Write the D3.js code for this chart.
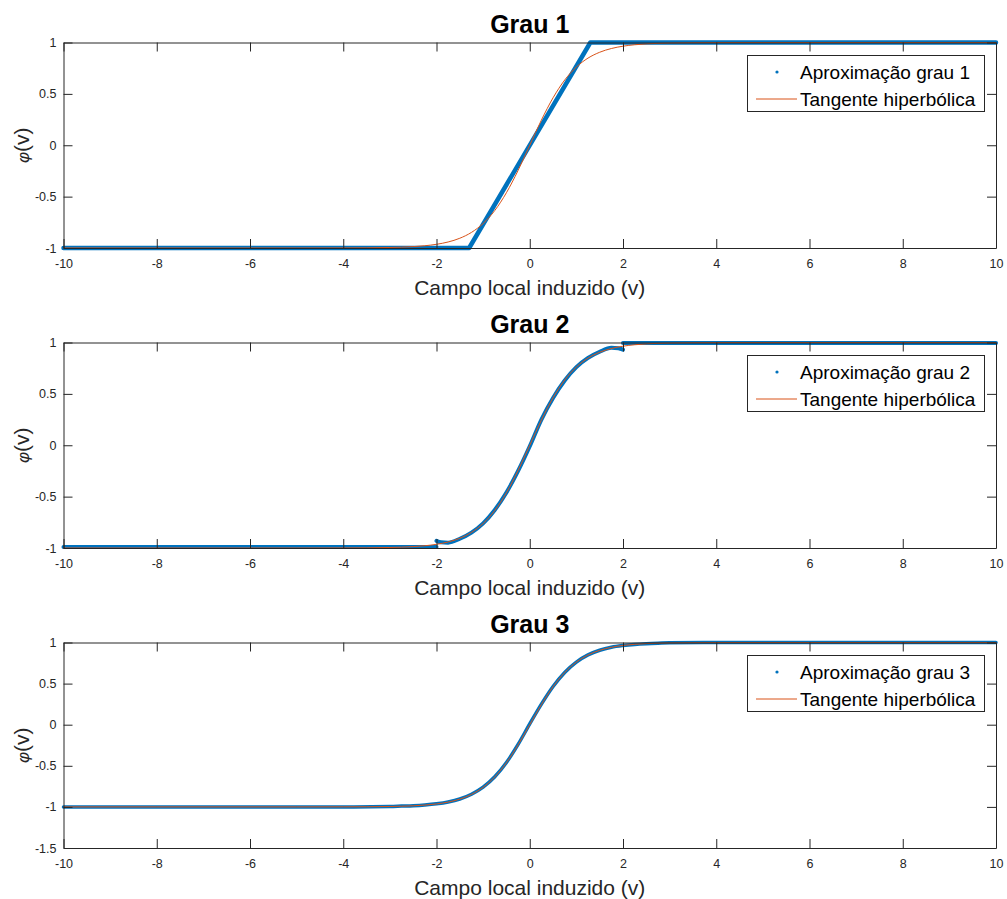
<!DOCTYPE html>
<html><head><meta charset="utf-8">
<script src="https://cdn.jsdelivr.net/npm/d3@7"></script>
<style>
html,body{margin:0;padding:0;background:#fff;}
svg{display:block;font-family:"Liberation Sans",Arial,sans-serif;}
</style></head>
<body>
<svg id="chart" width="1007" height="899"></svg>
<script>
// ---------- data ----------
const titles = ["Grau 1", "Grau 2", "Grau 3"];
const legendLabels = ["Aproximação grau 1", "Aproximação grau 2", "Aproximação grau 3"];
const tanhLabel = "Tangente hiperbólica";
const xLabel = "Campo local induzido (v)";
const xTicks = [-10, -8, -6, -4, -2, 0, 2, 4, 6, 8, 10];
const yTicks12 = [-1, -0.5, 0, 0.5, 1];
const yTicks3 = [-1.5, -1, -0.5, 0, 0.5, 1];
const yDomains = [[-1, 1], [-1, 1], [-1.5, 1]];

// hyperbolic tangent reference curve
const tanhX = [-10,-8,-6,-5,-4,-3.5,-3,-2.75,-2.5,-2.25,-2,-1.75,-1.5,-1.25,-1,-0.75,-0.5,-0.25,0,0.25,0.5,0.75,1,1.25,1.5,1.75,2,2.25,2.5,2.75,3,3.5,4,5,6,8,10];
const tanhY = [-1,-1,-1,-0.9999,-0.9993,-0.9982,-0.9951,-0.9918,-0.9866,-0.978,-0.964,-0.9414,-0.9051,-0.8483,-0.7616,-0.6351,-0.4621,-0.2449,0,0.2449,0.4621,0.6351,0.7616,0.8483,0.9051,0.9414,0.964,0.978,0.9866,0.9918,0.9951,0.9982,0.9993,0.9999,1,1,1];

// grade 1 approximation (piecewise linear)
const g1X = [-10, -1.3, 1.3, 10];
const g1Y = [-1, -1, 1, 1];

// grade 2 approximation (three pieces, jumps at +-2)
const g2LeftX = [-10, -2];
const g2LeftY = [-0.99, -0.99];
const g2MidX = [-2, -1.9, -1.75, -1.5, -1.25, -1, -0.75, -0.5, -0.25, 0, 0.25, 0.5, 0.75, 1, 1.25, 1.5, 1.75, 1.9, 2];
const g2MidY = [-0.93, -0.945, -0.948, -0.91, -0.85, -0.76, -0.63, -0.46, -0.25, -0.01, 0.25, 0.46, 0.63, 0.76, 0.85, 0.91, 0.948, 0.945, 0.93];
const g2RightX = [2, 10];
const g2RightY = [0.995, 0.995];

// grade 3 approximation
const g3X = [-10,-6,-4,-3,-2.75,-2.5,-2.25,-2,-1.75,-1.5,-1.25,-1,-0.75,-0.5,-0.25,0,0.25,0.5,0.75,1,1.25,1.5,1.75,2,2.25,2.5,2.75,3,4,6,10];
const g3Y = [-1,-1,-1,-0.995,-0.99,-0.985,-0.976,-0.962,-0.94,-0.904,-0.846,-0.76,-0.634,-0.46,-0.24,0.01,0.25,0.465,0.636,0.762,0.849,0.906,0.942,0.963,0.977,0.986,0.992,0.996,1,1,1];

// ---------- layout ----------
const svg = d3.select("#chart");
const left = 63.5, right = 996;
const tops = [42.5, 342.5, 642.5];
const plotH = 205.5;
const blue = "#0072BD", orange = "#D95319", axisCol = "#262626";
const fmt = v => String(v);

const approxSets = [
  [{x: g1X, y: g1Y}],
  [{x: g2LeftX, y: g2LeftY}, {x: g2MidX, y: g2MidY}, {x: g2RightX, y: g2RightY}],
  [{x: g3X, y: g3Y}]
];
const blueWidths = [4.5, 4, 3.5];
const yTickSets = [yTicks12, yTicks12, yTicks3];

const x = d3.scaleLinear().domain([-10, 10]).range([left, right]);

titles.forEach((t, i) => {
  const top = tops[i], bottom = top + plotH;
  const y = d3.scaleLinear().domain(yDomains[i]).range([bottom, top]);
  const g = svg.append("g");

  // data
  const line = d3.line().x(d => x(d[0])).y(d => y(d[1])).curve(d3.curveMonotoneX);
  approxSets[i].forEach(s => {
    g.append("path")
      .datum(s.x.map((v, k) => [v, s.y[k]]))
      .attr("d", d3.line().x(d => x(d[0])).y(d => y(d[1])).curve(i === 0 ? d3.curveLinear : d3.curveMonotoneX))
      .attr("fill", "none").attr("stroke", blue).attr("stroke-width", blueWidths[i])
      .attr("stroke-linejoin", "round").attr("stroke-linecap", "round");
  });
  g.append("path")
    .datum(tanhX.map((v, k) => [v, tanhY[k]]))
    .attr("d", line)
    .attr("fill", "none").attr("stroke", orange).attr("stroke-width", 1);

  // axes
  const xb = g.append("g").attr("transform", `translate(0,${bottom})`)
    .call(d3.axisBottom(x).tickValues(xTicks).tickFormat(fmt).tickSizeInner(-9).tickSizeOuter(0).tickPadding(11));
  const xt = g.append("g").attr("transform", `translate(0,${top})`)
    .call(d3.axisTop(x).tickValues(xTicks).tickFormat("").tickSizeInner(-9).tickSizeOuter(0));
  const yl = g.append("g").attr("transform", `translate(${left},0)`)
    .call(d3.axisLeft(y).tickValues(yTickSets[i]).tickFormat(fmt).tickSizeInner(-9).tickSizeOuter(0).tickPadding(7));
  const yr = g.append("g").attr("transform", `translate(${right},0)`)
    .call(d3.axisRight(y).tickValues(yTickSets[i]).tickFormat("").tickSizeInner(-9).tickSizeOuter(0));
  [xb, xt, yl, yr].forEach(a => {
    a.selectAll("path.domain").attr("stroke", axisCol).attr("stroke-width", 1);
    a.selectAll(".tick line").attr("stroke", axisCol).attr("stroke-width", 1);
    a.selectAll(".tick text").attr("fill", axisCol).style("font-size", "12.5px").style("font-family", "Liberation Sans, Arial, sans-serif");
  });

  // title
  g.append("text").attr("x", (left + right) / 2).attr("y", top - 10)
    .attr("text-anchor", "middle").style("font-size", "25px").style("font-weight", "bold")
    .attr("fill", "#000").text(t);
  // x label
  g.append("text").attr("x", (left + right) / 2).attr("y", bottom + 47)
    .attr("text-anchor", "middle").style("font-size", "21px").attr("fill", axisCol).text(xLabel);
  // y label
  const yt = g.append("text").attr("transform", `translate(29,${(top + bottom) / 2}) rotate(-90)`)
    .attr("text-anchor", "middle").style("font-size", "21px").attr("fill", axisCol);
  yt.append("tspan").style("font-style", "italic").style("font-size", "17px").text("φ");
  yt.append("tspan").text("(v)");

  // legend
  const lx = 747.5, ly = top + 13, lw = 237, lh = 56;
  const lg = g.append("g");
  lg.append("rect").attr("x", lx).attr("y", ly).attr("width", lw).attr("height", lh)
    .attr("fill", "#fff").attr("stroke", axisCol).attr("stroke-width", 1);
  lg.append("circle").attr("cx", 777).attr("cy", ly + 16.5).attr("r", 1.6).attr("fill", blue);
  lg.append("line").attr("x1", 756).attr("x2", 797).attr("y1", ly + 43.5).attr("y2", ly + 43.5)
    .attr("stroke", orange).attr("stroke-width", 1);
  lg.append("text").attr("x", 800).attr("y", ly + 23).style("font-size", "19px").attr("fill", "#000").text(legendLabels[i]);
  lg.append("text").attr("x", 800).attr("y", ly + 50).style("font-size", "19px").attr("fill", "#000").text(tanhLabel);
});
</script>
</body></html>
